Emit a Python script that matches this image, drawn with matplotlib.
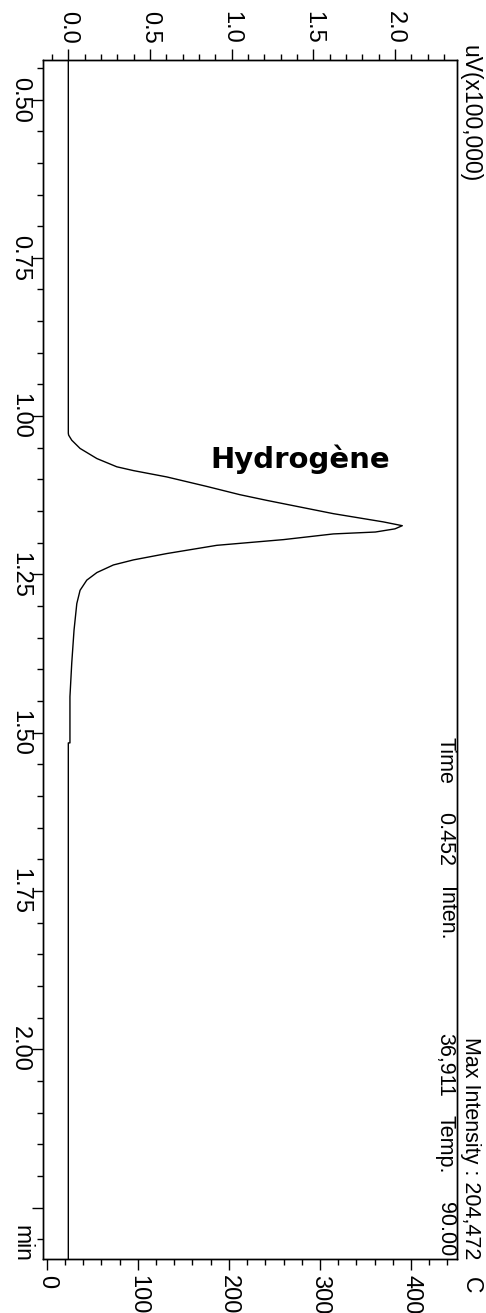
import matplotlib
matplotlib.use('Agg')
from matplotlib import pyplot as plt
from matplotlib.ticker import MultipleLocator

# chromatogramme hydrogene, dessine tourne de 90 degres comme le scan
time_min = [0.437, 1.027, 1.030, 1.038, 1.051, 1.067, 1.080, 1.086, 1.096, 1.111,
            1.124, 1.133, 1.154, 1.167, 1.173, 1.178, 1.183, 1.186, 1.195, 1.204,
            1.217, 1.227, 1.235, 1.247, 1.259, 1.275, 1.296, 1.338, 1.390, 1.443,
            1.516, 1.516, 2.331]
inten = [0.0, 0.0, 0.002, 0.021, 0.072, 0.175, 0.297, 0.399, 0.603, 0.848,
         1.050, 1.215, 1.623, 1.929, 2.045, 2.000, 1.880, 1.623, 1.317, 0.909,
         0.603, 0.399, 0.276, 0.175, 0.113, 0.072, 0.052, 0.035, 0.021, 0.010,
         0.010, 0.0, 0.0]  # uV x100,000

time_ticks = [0.50, 0.75, 1.00, 1.25, 1.50, 1.75, 2.00, 2.25]
time_labels = ['0.50', '0.75', '1.00', '1.25', '1.50', '1.75', '2.00', '']
inten_ticks = [0.0, 0.5, 1.0, 1.5, 2.0]
inten_labels = ['0.0', '0.5', '1.0', '1.5', '2.0']
temp_ticks = [0, 100, 200, 300, 400]
temp_labels = ['0', '100', '200', '300', '400']

plt.rcParams['font.family'] = ['Liberation Sans Narrow', 'Liberation Sans']
plt.rcParams['font.size'] = 17
plt.rcParams['axes.linewidth'] = 1.0

W, H = 486, 1313
fig = plt.figure(figsize=(W / 100, H / 100), dpi=100)
ax = fig.add_axes([43 / W, 1 - 1259 / H, 414 / W, 1199 / H])

ax.plot(inten, time_min, color='black', lw=1.0)
ax.set_xlim(-0.155, 2.38)
ax.set_ylim(2.331, 0.4376)

# axe temperature en bas (twiny remet les ticks de ax en bas, donc avant)
ax2 = ax.twiny()
ax2.set_xlim(-4.1, 450.5)
ax2.xaxis.tick_bottom()
ax2.set_xticks(temp_ticks, temp_labels, rotation=-90)
ax2.xaxis.set_minor_locator(MultipleLocator(20))
ax2.tick_params(which='major', length=8, width=1, pad=3.5)
ax2.tick_params(which='minor', length=4.5, width=1)

ax.xaxis.tick_top()
ax.set_xticks(inten_ticks, inten_labels, rotation=-90)
ax.xaxis.set_minor_locator(MultipleLocator(0.1))
ax.set_yticks(time_ticks, time_labels, rotation=-90)
plt.setp(ax.get_yticklabels(), va='center')
ax.yaxis.set_minor_locator(MultipleLocator(0.05))
ax.tick_params(which='major', length=8, width=1)
ax.tick_params(which='minor', length=4.5, width=1)
ax.tick_params(axis='x', pad=3.5)
ax.tick_params(axis='y', pad=0.5)


def txt(x, y, s, size=15.5):
    fig.text(x / W, 1 - y / H, s, rotation=-90, ha='center', va='top', fontsize=size)


txt(470, 45, 'uV(x100,000)', 16.5)
txt(445, 737, 'Time')
txt(445, 812, '0.452')
txt(445, 887, 'Inten.')
txt(445, 1033, '36,911')
txt(470, 1037, 'Max Intensity : 204,472')
txt(445, 1115, 'Temp.')
txt(445, 1202, '90.00')
txt(471, 1277, 'C', 16.5)
txt(22, 1225, 'min', 16.5)

fig.text(210 / W, 1 - 468 / H, 'Hydrogène', fontsize=21, fontweight='bold',
         family='DejaVu Sans', ha='left', va='baseline')

plt.savefig('out.png', dpi=100)
